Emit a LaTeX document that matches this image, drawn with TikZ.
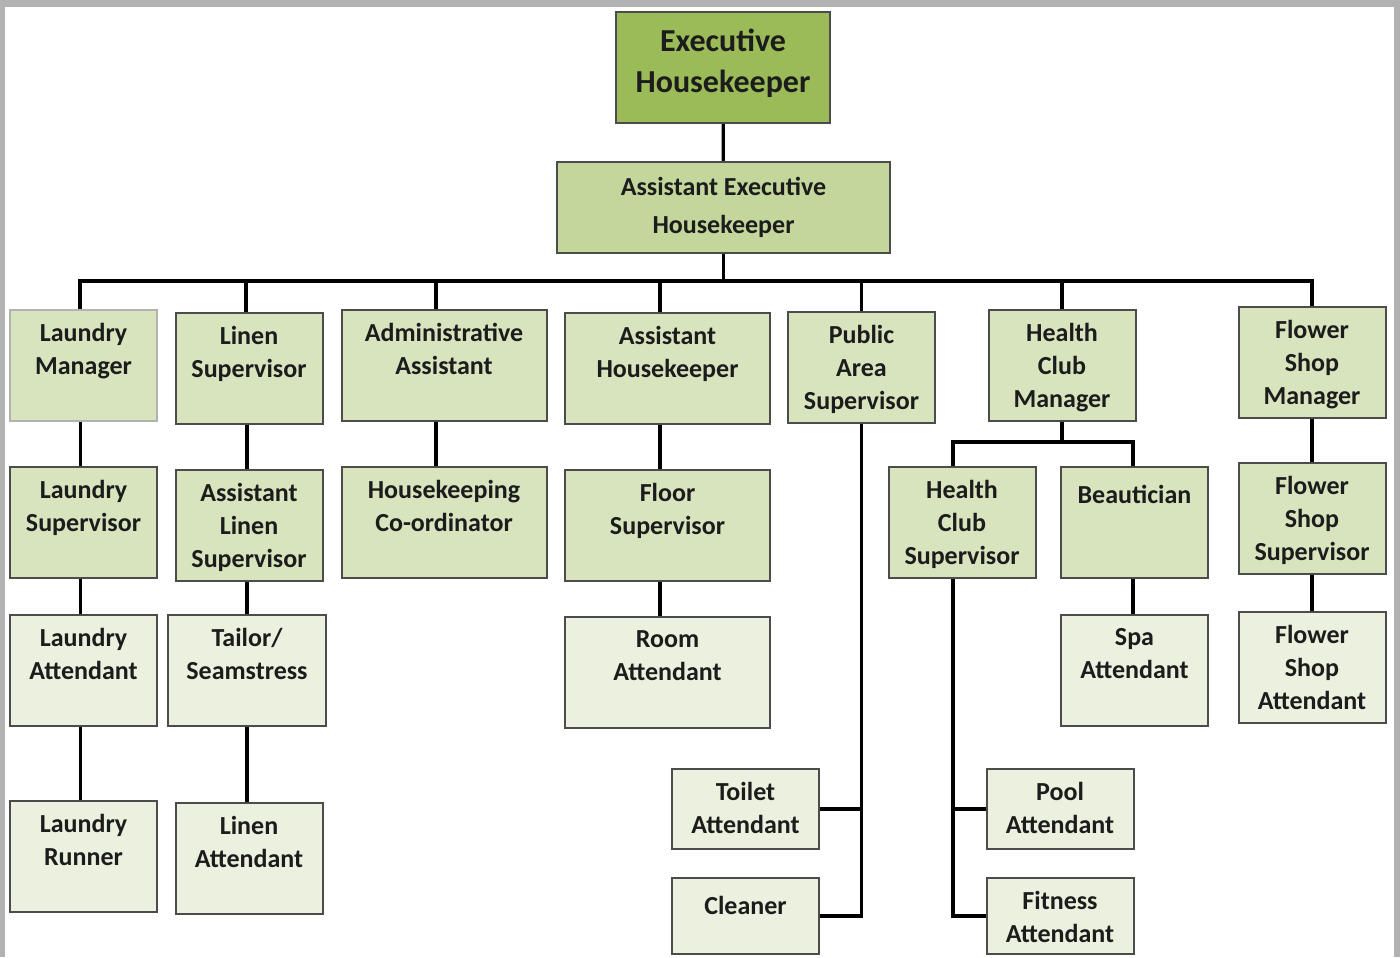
\documentclass[tikz,border=0pt]{standalone}
\usepackage{fontspec}
\setmainfont{Carlito}
\usepackage{tikz}

\definecolor{topgreen}{HTML}{9BBB59}
\definecolor{secgreen}{HTML}{C3D69B}
\definecolor{midgreen}{HTML}{D7E4BD}
\definecolor{litegreen}{HTML}{EBF1DE}
\definecolor{ink}{HTML}{1C1C1C}

\begin{document}
\begin{tikzpicture}[x=0.5pt, y=-0.5pt,
    box/.style = {draw=black!70, line width=1pt, fill=midgreen, inner sep=0pt,
                  minimum width=73.5pt, minimum height=55.5pt},
    wide/.style = {minimum width=102.5pt},
    lite/.style = {fill=litegreen},
    lbl/.style = {anchor=north, align=center, inner sep=0pt, text=ink,
                  execute at begin node=\strut, yshift=-7.15pt,
                  font=\bfseries\fontsize{13}{16.5}\selectfont},
    link/.style = {draw=black, line width=1.6pt}]
        \useasboundingbox (0,0) rectangle (1400,957);
        \fill[black!30] (0,0) rectangle (1400,957);
        \fill[white] (5,7) rectangle (1394,957);

        % top of the chart
        \node[box, fill=topgreen, minimum width=107pt,
              label={[lbl, yshift=-1.65pt, font=\bfseries\fontsize{16}{20.5}\selectfont]90:Executive\\Housekeeper}] (eh) at (723,67.5) {};
        \node[box, fill=secgreen, minimum width=166.5pt, minimum height=45.5pt,
              label={[lbl, yshift=-0.75pt, font=\bfseries\fontsize{13}{19}\selectfont]90:Assistant Executive\\Housekeeper}] (aeh) at (723.5,207.5) {};

        % first row
        \node[box, draw=black!30, label={[lbl]90:Laundry\\Manager}] (lm) at (83.5,365.5) {};
        \node[box, label={[lbl]90:Linen\\Supervisor}] (ls) at (249,368) {};
        \node[box, wide, label={[lbl]90:Administrative\\Assistant}] (aa) at (444,365.5) {};
        \node[box, wide, label={[lbl]90:Assistant\\Housekeeper}] (ah) at (667.5,368) {};
        \node[box, label={[lbl]90:Public\\Area\\Supervisor}] (pas) at (861.5,367.5) {};
        \node[box, label={[lbl]90:Health\\Club\\Manager}] (hcm) at (1062,365.5) {};
        \node[box, label={[lbl]90:Flower\\Shop\\Manager}] (fsm) at (1312,362) {};

        % second row
        \node[box, label={[lbl]90:Laundry\\Supervisor}] (lsup) at (83.5,522.5) {};
        \node[box, label={[lbl]90:Assistant\\Linen\\Supervisor}] (als) at (249,525) {};
        \node[box, wide, label={[lbl]90:Housekeeping\\Co-ordinator}] (hkc) at (444,522.5) {};
        \node[box, wide, label={[lbl]90:Floor\\Supervisor}] (fs) at (667.5,525) {};
        \node[box, label={[lbl]90:Health\\Club\\Supervisor}] (hcs) at (962,522.5) {};
        \node[box, label={[lbl]90:Beautician}] (bea) at (1134.5,522.5) {};
        \node[box, label={[lbl]90:Flower\\Shop\\Supervisor}] (fss) at (1312,518.5) {};

        % third row
        \node[box, lite, label={[lbl]90:Laundry\\Attendant}] (la) at (83.5,670.5) {};
        \node[box, lite, minimum width=79pt, label={[lbl]90:Tailor/\\Seamstress}] (ts) at (247,670.5) {};
        \node[box, lite, wide, label={[lbl]90:Room\\Attendant}] (ra) at (667.5,672.5) {};
        \node[box, lite, label={[lbl]90:Spa\\Attendant}] (sa) at (1134.5,670.5) {};
        \node[box, lite, label={[lbl]90:Flower\\Shop\\Attendant}] (fsa) at (1312,667) {};

        % bottom rows
        \node[box, lite, label={[lbl]90:Laundry\\Runner}] (lr) at (83.5,856.5) {};
        \node[box, lite, label={[lbl]90:Linen\\Attendant}] (lia) at (249,858.5) {};
        \node[box, lite, minimum height=40pt, label={[lbl]90:Toilet\\Attendant}] (ta) at (745.5,809) {};
        \node[box, lite, minimum height=38pt, label={[lbl]90:Cleaner}] (cl) at (745.5,916) {};
        \node[box, lite, minimum height=40pt, label={[lbl]90:Pool\\Attendant}] (pa) at (1060,809) {};
        \node[box, lite, minimum height=38pt, label={[lbl]90:Fitness\\Attendant}] (fa) at (1060,916) {};

        % connectors
        \draw[link] (eh) -- (aeh);
        \foreach \n/\dx in {lm/-1.75,ls/-1.5,aa/-4,ah/-3.75,pas/0,hcm/0,fsm/0}
            \draw[link] (aeh.south) -- ++(0,27) -| ([xshift=\dx pt]\n.north);
        \draw[link] ([xshift=-1.5pt]lm.south) -- ([xshift=-1.5pt]lsup.north);
        \draw[link] ([xshift=-1.5pt]lsup.south) -- ([xshift=-1.5pt]la.north);
        \draw[link] ([xshift=-1.5pt]la.south) -- ([xshift=-1.5pt]lr.north);
        \draw[link] ([xshift=-1pt]ls.south) -- ([xshift=-1pt]als.north);
        \draw[link] ([xshift=-1pt]als.south) -- (ts.north);
        \draw[link] (ts.south) -- ([xshift=-1pt]lia.north);
        \draw[link] ([xshift=-4pt]aa.south) -- ([xshift=-4pt]hkc.north);
        \draw[link] ([xshift=-3.75pt]ah.south) -- ([xshift=-3.75pt]fs.north);
        \draw[link] ([xshift=-3.75pt]fs.south) -- ([xshift=-3.75pt]ra.north);
        \draw[link] (hcm.south) -- ++(0,20) -| ([xshift=-4.5pt]hcs.north);
        \draw[link] (hcm.south) -- ++(0,20) -| ([xshift=-0.75pt]bea.north);
        \draw[link] ([xshift=-0.75pt]bea.south) -- ([xshift=-0.75pt]sa.north);
        \draw[link] (fsm) -- (fss);
        \draw[link] (fss) -- (fsa);
        \draw[link] (ta.east) -| (pas.south);
        \draw[link] (pas.south) |- (cl.east);
        \draw[link] (pa.west) -| ([xshift=-4.5pt]hcs.south);
        \draw[link] ([xshift=-4.5pt]hcs.south) |- (fa.west);
    \end{tikzpicture}
\end{document}
